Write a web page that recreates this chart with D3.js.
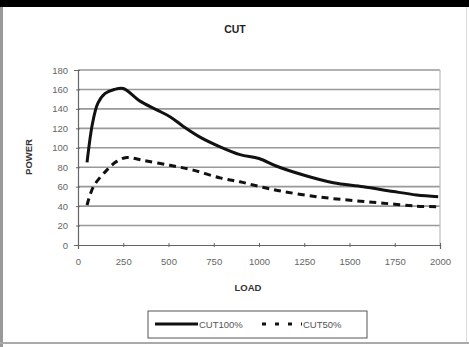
<!DOCTYPE html>
<html>
<head>
<meta charset="utf-8">
<script src="https://cdn.jsdelivr.net/npm/d3@7"></script>
<style>
  body { margin: 0; background: #fff; }
  text { font-family: Arial, "Liberation Sans", sans-serif; }
</style>
</head>
<body>
<div id="chart"></div>
<script>
// values
let loads100 = [50, 80, 110, 150, 200, 250, 343, 435, 508, 582, 674, 785, 895, 1000, 1098, 1245, 1410, 1576, 1742, 1871, 1990];
let cut100 = [85, 125, 146, 156, 160, 161, 148, 139, 132, 122, 111, 101, 93, 89, 81, 72, 64, 60, 55, 51.5, 49.7];
let loads50 = [50, 85, 159, 214, 269, 361, 508, 637, 785, 895, 1006, 1134, 1318, 1503, 1687, 1871, 1990];
let cut50 = [41, 60, 77, 86, 90, 87, 82, 77, 69, 65, 60, 55, 49.7, 46, 43, 40, 39.4];
let xTicks = [0, 250, 500, 750, 1000, 1250, 1500, 1750, 2000];
let yTicks = [0, 20, 40, 60, 80, 100, 120, 140, 160, 180];

let W = 469, H = 347;
let svg = d3.select("#chart").append("svg").attr("width", W).attr("height", H);

// outer frame
svg.append("rect").attr("x", 0).attr("y", 0).attr("width", W).attr("height", 7).attr("fill", "#000");
svg.append("rect").attr("x", 0).attr("y", 7).attr("width", 3).attr("height", H - 7).attr("fill", "#999");
svg.append("rect").attr("x", 0).attr("y", 342).attr("width", W).attr("height", 2).attr("fill", "#aaa");
svg.append("rect").attr("x", 466).attr("y", 7).attr("width", 1).attr("height", 335).attr("fill", "#ddd");

let x = d3.scaleLinear().domain([0, 2000]).range([78, 440]);
let y = d3.scaleLinear().domain([0, 180]).range([245, 70]);

// gridlines
svg.append("g").selectAll("line").data(yTicks.slice(1)).enter().append("line")
    .attr("x1", x(0)).attr("x2", x(2000))
    .attr("y1", d => y(d)).attr("y2", d => y(d))
    .attr("stroke", "#999").attr("stroke-width", 1.6);
svg.append("line").attr("x1", x(2000)).attr("x2", x(2000)).attr("y1", y(180)).attr("y2", y(0))
    .attr("stroke", "#bbb").attr("stroke-width", 1.2);

// axes
let xAxis = svg.append("g").attr("transform", "translate(0," + y(0) + ")")
    .call(d3.axisBottom(x).tickValues(xTicks).tickSize(4).tickPadding(9).tickFormat(d3.format("d")));
xAxis.selectAll("line").attr("stroke", "#666").attr("transform", "translate(0,-2)");
let yAxis = svg.append("g").attr("transform", "translate(" + x(0) + ",0)")
    .call(d3.axisLeft(y).tickValues(yTicks).tickSize(4).tickPadding(6));
yAxis.selectAll("line").attr("stroke", "#666").attr("transform", "translate(2,0)");
svg.selectAll(".domain").attr("stroke", "#666").attr("stroke-width", 1.2);
svg.selectAll(".tick text").attr("font-size", 9.5).attr("fill", "#666");

// titles
svg.append("text").attr("x", 235).attr("y", 33).attr("text-anchor", "middle")
    .attr("font-size", 10.5).attr("font-weight", "bold").attr("fill", "#222").text("CUT");
svg.append("text").attr("x", 248).attr("y", 291).attr("text-anchor", "middle")
    .attr("font-size", 9.5).attr("font-weight", "bold").attr("fill", "#333").text("LOAD");
svg.append("text").attr("transform", "translate(32,157) rotate(-90)").attr("text-anchor", "middle")
    .attr("font-size", 9.5).attr("font-weight", "bold").attr("fill", "#333").text("POWER");

// lines
let line = d3.line().x(d => x(d[0])).y(d => y(d[1])).curve(d3.curveCatmullRom.alpha(0.5));
svg.append("path").datum(d3.zip(loads100, cut100)).attr("d", line)
    .attr("fill", "none").attr("stroke", "#111").attr("stroke-width", 3);
svg.append("path").datum(d3.zip(loads50, cut50)).attr("d", line)
    .attr("fill", "none").attr("stroke", "#111").attr("stroke-width", 3).attr("stroke-dasharray", "7,5");

// legend
let lg = svg.append("g");
lg.append("rect").attr("x", 148).attr("y", 311).attr("width", 219).attr("height", 27)
    .attr("fill", "#fff").attr("stroke", "#555").attr("stroke-width", 1);
lg.append("line").attr("x1", 155).attr("x2", 198).attr("y1", 324).attr("y2", 324)
    .attr("stroke", "#111").attr("stroke-width", 3);
lg.append("text").attr("x", 199).attr("y", 327.5).attr("font-size", 9.5).attr("fill", "#555").text("CUT100%");
lg.append("line").attr("x1", 262).attr("x2", 302).attr("y1", 324).attr("y2", 324)
    .attr("stroke", "#111").attr("stroke-width", 3).attr("stroke-dasharray", "4,9");
lg.append("text").attr("x", 303).attr("y", 327.5).attr("font-size", 9.5).attr("fill", "#555").text("CUT50%");
</script>
</body>
</html>
